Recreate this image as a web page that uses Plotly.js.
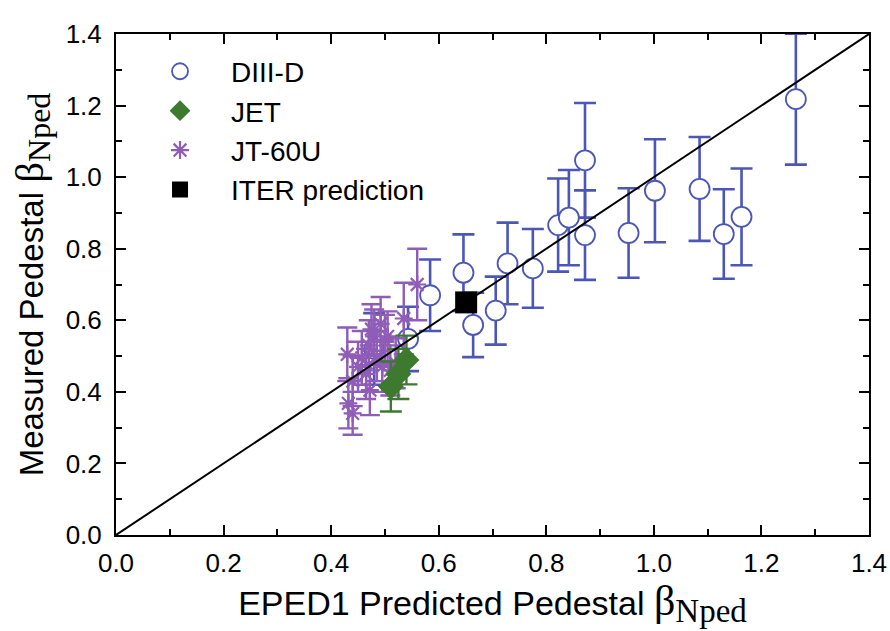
<!DOCTYPE html>
<html>
<head>
<meta charset="utf-8">
<script src="https://cdn.plot.ly/plotly-3.0.1.min.js"></script>
<style>html,body{margin:0;padding:0;background:#fff;}#chart{width:890px;height:631px;}</style>
</head>
<body>
<div id="chart"></div>
<script>
// DIII-D
const diiidX = [0.480, 0.543, 0.584, 0.646, 0.664, 0.706, 0.728, 0.775, 0.822, 0.842, 0.872, 0.872, 0.953, 1.002, 1.085, 1.130, 1.163, 1.264];
const diiidY = [0.520, 0.548, 0.670, 0.733, 0.587, 0.627, 0.759, 0.745, 0.866, 0.887, 1.047, 0.838, 0.844, 0.962, 0.967, 0.841, 0.889, 1.218];
const diiidErr = [0.10, 0.09, 0.10, 0.107, 0.09, 0.095, 0.114, 0.11, 0.13, 0.133, 0.16, 0.125, 0.125, 0.144, 0.145, 0.125, 0.135, 0.183];
// JET
const jetX = [0.540, 0.525, 0.511];
const jetY = [0.489, 0.450, 0.415];
const jetErr = [0.068, 0.07, 0.07];
// JT-60U
const jtX = [0.560, 0.535, 0.492, 0.480, 0.500, 0.470, 0.430, 0.457, 0.485, 0.510, 0.495, 0.465, 0.520, 0.472, 0.440, 0.432, 0.440, 0.450, 0.505, 0.475];
const jtY = [0.700, 0.605, 0.590, 0.555, 0.545, 0.530, 0.505, 0.495, 0.500, 0.460, 0.470, 0.450, 0.480, 0.405, 0.430, 0.368, 0.340, 0.470, 0.555, 0.575];
const jtErr = [0.10, 0.10, 0.075, 0.075, 0.07, 0.07, 0.075, 0.075, 0.07, 0.07, 0.07, 0.07, 0.07, 0.07, 0.07, 0.07, 0.06, 0.07, 0.07, 0.07];
// ITER prediction
const iterX = [0.651];
const iterY = [0.650];
// Unity line
const lineX = [0, 1.4];
const lineY = [0, 1.4];
const tickVals = [0, 0.2, 0.4, 0.6, 0.8, 1.0, 1.2, 1.4];
const tickText = ['0.0', '0.2', '0.4', '0.6', '0.8', '1.0', '1.2', '1.4'];

const BLUE = '#4b56b6', PURPLE = '#8f5cb8', GREEN = '#3d7a30';

const traces = [
  {x: diiidX, y: diiidY, name: 'DIII-D', type: 'scatter', mode: 'markers', legendrank: 1,
   marker: {symbol: 'circle', size: 20, color: '#ffffff', line: {color: BLUE, width: 1.8}},
   error_y: {type: 'data', array: diiidErr, visible: true, color: BLUE, thickness: 2.6, width: 11}},
  {x: jtX, y: jtY, name: 'JT-60U', type: 'scatter', mode: 'markers', legendrank: 3,
   marker: {symbol: 'asterisk-open', size: 15, color: PURPLE, line: {color: PURPLE, width: 2.2}},
   error_y: {type: 'data', array: jtErr, visible: true, color: PURPLE, thickness: 2.4, width: 10}},
  {x: jetX, y: jetY, name: 'JET', type: 'scatter', mode: 'markers', legendrank: 2,
   marker: {symbol: 'diamond', size: 20, color: GREEN, line: {width: 0}},
   error_y: {type: 'data', array: jetErr, visible: true, color: GREEN, thickness: 2.4, width: 11}},
  {x: lineX, y: lineY, type: 'scatter', mode: 'lines', showlegend: false, hoverinfo: 'skip',
   line: {color: '#000', width: 2}},
  {x: iterX, y: iterY, name: 'ITER prediction', type: 'scatter', mode: 'markers', legendrank: 4,
   marker: {symbol: 'square', size: 22, color: '#000'}}
];

function beta(bs, ss) {
  return '<span style="font-family:\'Liberation Serif\';font-size:' + bs + 'px">β</span><sub><span style="font-family:\'Liberation Serif\';font-size:' + ss + 'px">Nped</span></sub>';
}

const axisCommon = {
  range: [0, 1.4], autorange: false, showgrid: false, zeroline: false,
  showline: true, linecolor: '#000', linewidth: 2, mirror: 'ticks',
  ticks: 'inside', ticklen: 10, tickwidth: 2, tickcolor: '#000',
  tickvals: tickVals, ticktext: tickText,
  tickfont: {family: 'Liberation Sans, Arial', size: 26, color: '#000'},
  minor: {ticks: 'inside', ticklen: 6, tickwidth: 2, tickcolor: '#000', dtick: 0.1, showgrid: false}
};

const layout = {
  width: 890, height: 631,
  margin: {l: 116, r: 21, t: 34, b: 96},
  paper_bgcolor: '#fff', plot_bgcolor: '#fff',
  font: {family: 'Liberation Sans, Arial', color: '#000'},
  showlegend: true,
  legend: {x: 0.0173, y: 0.975, xanchor: 'left', yanchor: 'top', bgcolor: 'rgba(0,0,0,0)',
           font: {family: 'Liberation Sans, Arial', size: 28, color: '#000'},
           itemwidth: 92, traceorder: 'normal'},
  xaxis: Object.assign({}, axisCommon, {
    ticklabelstandoff: 4,
    title: {text: 'EPED1 Predicted Pedestal ' + beta(42, 33), font: {size: 34, family: 'Liberation Sans, Arial'}, standoff: 2}
  }),
  yaxis: Object.assign({}, axisCommon, {
    ticklabelstandoff: 7,
    title: {text: 'Measured Pedestal ' + beta(41, 32), font: {size: 33, family: 'Liberation Sans, Arial'}, standoff: 12}
  })
};

Plotly.newPlot('chart', traces, layout, {displayModeBar: false, staticPlot: true});
</script>
</body>
</html>
